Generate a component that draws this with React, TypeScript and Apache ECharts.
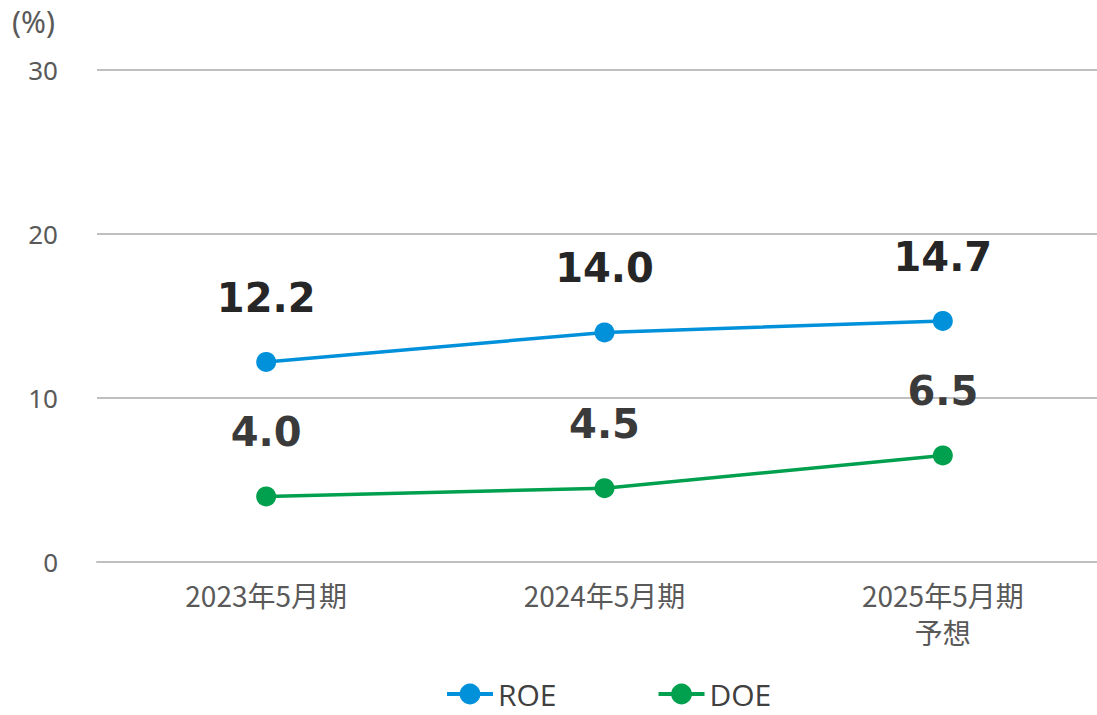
import React, { useEffect, useRef } from "react";
import * as echarts from "echarts";

const categories = ["2023年5月期", "2024年5月期", "2025年5月期\n予想"];
const roeValues = [12.2, 14.0, 14.7];
const doeValues = [4.0, 4.5, 6.5];
const yTicks = { min: 0, max: 30, interval: 10 };
const unitLabel = "(%)";

export default function App() {
  const ref = useRef<HTMLDivElement>(null);
  useEffect(() => {
    if (!ref.current) return;
    const chart = echarts.init(ref.current, undefined, { renderer: "svg" });
    const labelFont = "Verdana, 'DejaVu Sans', sans-serif";
    chart.setOption({
      animation: false,
      backgroundColor: "#ffffff",
      grid: {
        left: 97,
        top: 70,
        right: -15,
        bottom: 153,
        containLabel: false,
        outerBoundsMode: "none",
      },
      graphic: [
        {
          type: "text",
          left: 12,
          top: 6,
          style: {
            text: unitLabel,
            fill: "#595959",
            fontSize: 30,
            fontFamily: "'Noto Sans', sans-serif",
          },
        },
      ],
      xAxis: {
        type: "category",
        data: categories,
        boundaryGap: true,
        axisLine: { show: true, lineStyle: { color: "#BFBFBF", width: 2 } },
        axisTick: { show: false },
        axisLabel: {
          color: "#595959",
          fontSize: 28,
          fontFamily: "'Noto Sans CJK JP', sans-serif",
          margin: 14,
          lineHeight: 37,
        },
      },
      yAxis: {
        type: "value",
        min: yTicks.min,
        max: yTicks.max,
        interval: yTicks.interval,
        axisLine: { show: false },
        axisTick: { show: false },
        axisLabel: {
          color: "#595959",
          fontSize: 26,
          fontFamily: "'Noto Sans', sans-serif",
          margin: 39,
        },
        splitLine: { lineStyle: { color: "#BFBFBF", width: 2 } },
      },
      legend: {
        bottom: 0,
        left: 440,
        padding: [2, 5, 6, 5],
        itemWidth: 46,
        itemHeight: 26,
        itemGap: 100,
        lineStyle: { width: 4 },
        textStyle: {
          color: "#404040",
          fontSize: 30,
          lineHeight: 30,
          fontFamily: "'Open Sans', sans-serif",
        },
        data: ["ROE", "DOE"],
      },
      series: [
        {
          name: "ROE",
          type: "line",
          data: roeValues,
          symbol: "circle",
          symbolSize: 20,
          color: "#0091DA",
          lineStyle: { width: 3.5, color: "#0091DA" },
          label: {
            show: true,
            position: "top",
            distance: 34,
            fontSize: 40,
            fontWeight: "bold",
            color: "#262626",
            fontFamily: labelFont,
            formatter: (p: any) => p.value.toFixed(1),
          },
        },
        {
          name: "DOE",
          type: "line",
          data: doeValues,
          symbol: "circle",
          symbolSize: 20,
          color: "#00A04F",
          lineStyle: { width: 3.5, color: "#00A04F" },
          label: {
            show: true,
            position: "top",
            distance: 34,
            fontSize: 40,
            fontWeight: "bold",
            color: "#3A3A3A",
            fontFamily: labelFont,
            formatter: (p: any) => p.value.toFixed(1),
          },
        },
      ],
    });
    return () => chart.dispose();
  }, []);
  return (
    <div
      ref={ref}
      style={{ position: "absolute", left: 0, top: 0, width: 1097, height: 715 }}
    />
  );
}
